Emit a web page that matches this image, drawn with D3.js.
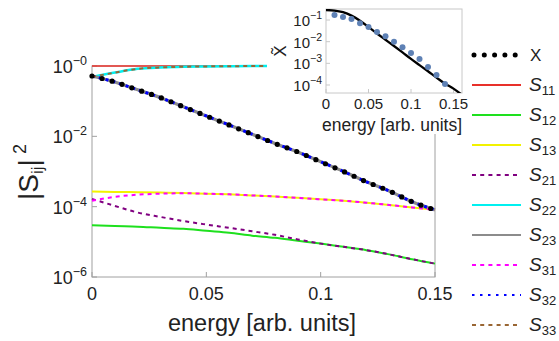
<!DOCTYPE html>
<html><head><meta charset="utf-8">
<script src="https://cdn.jsdelivr.net/npm/d3@7"></script>
<style>body{margin:0;background:#fff}svg{display:block;font-family:"Liberation Sans",Arial,sans-serif}</style>
</head><body><svg id="c" width="559" height="341"></svg>
<script>
// ---- data ----
const energy = [0,0.01,0.02,0.03,0.04,0.05,0.06,0.07,0.08,0.09,0.10,0.11,0.12,0.13,0.14,0.15];
const xVals  = [0.52,0.35,0.21,0.126,0.069,0.038,0.021,0.0115,0.0063,0.0036,0.0019,0.0010,5.1e-4,2.8e-4,1.38e-4,8.1e-5];
const s11 = [1,1,1,1,1,1,1,1,1,1,1,1,1,1,1,1];
const s12 = [2.95e-5,2.8e-5,2.7e-5,2.5e-5,2.35e-5,2.05e-5,1.8e-5,1.5e-5,1.3e-5,1.07e-5,8.9e-6,7.2e-6,5.8e-6,4.4e-6,3.2e-6,2.4e-6];
const s13 = [2.7e-4,2.63e-4,2.57e-4,2.51e-4,2.45e-4,2.34e-4,2.24e-4,2.09e-4,1.95e-4,1.78e-4,1.62e-4,1.48e-4,1.29e-4,1.12e-4,9.5e-5,8.1e-5];
const s21 = [1.66e-4,1.05e-4,6.8e-5,5.1e-5,3.9e-5,3.1e-5,2.5e-5,2.0e-5,1.58e-5,1.17e-5,8.9e-6,7.2e-6,5.8e-6,4.4e-6,3.2e-6,2.4e-6];
const s22 = [0.49,0.65,0.83,0.91,0.955,0.975,0.988,0.994,0.997,0.998,0.999,0.9995,0.9997,0.9998,0.9999,0.9999];
const s23 = [0.52,0.35,0.21,0.126,0.069,0.038,0.021,0.0115,0.0063,0.0036,0.0019,0.0010,5.1e-4,2.8e-4,1.38e-4,8.1e-5];
const s31 = [1.48e-4,1.9e-4,2.19e-4,2.34e-4,2.4e-4,2.34e-4,2.24e-4,2.09e-4,1.95e-4,1.78e-4,1.62e-4,1.48e-4,1.29e-4,1.12e-4,9.5e-5,8.1e-5];
const s32 = [0.52,0.35,0.21,0.126,0.069,0.038,0.021,0.0115,0.0063,0.0036,0.0019,0.0010,5.1e-4,2.8e-4,1.38e-4,8.1e-5];
const s33 = [0.49,0.65,0.83,0.91,0.955,0.975,0.988,0.994,0.997,0.998,0.999,0.9995,0.9997,0.9998,0.9999,0.9999];
const xTicks = [0,0.05,0.1,0.15];
const xTickLabels = ["0","0.05","0.1","0.15"];
const yTickExps = [0,-2,-4,-6];
// inset
const insetLineE = [0,0.01,0.02,0.03,0.04,0.05,0.06,0.07,0.08,0.09,0.10,0.11,0.12,0.13,0.14,0.15,0.16];
const insetLineV = [0.29,0.275,0.23,0.16,0.093,0.048,0.024,0.0123,0.0063,0.0032,0.0016,8.3e-4,4.3e-4,2.2e-4,1.15e-4,6.8e-5,3.5e-5];
const insetDotE = [0.01,0.02,0.03,0.04,0.05,0.06,0.07,0.08,0.09,0.10,0.11,0.12,0.13,0.14];
const insetDotV = [0.17,0.138,0.112,0.072,0.048,0.028,0.018,0.010,0.0056,0.0030,0.0016,6.8e-4,2.9e-4,1.1e-4];
const insetXTicks = [0,0.05,0.1,0.15];
const insetXTickLabels = ["0","0.05","0.1","0.15"];
const insetYTickExps = [-1,-2,-3,-4];

const series = [
  {name:"11", vals:s11, color:"#e8302a", w:1.6, dash:null},
  {name:"12", vals:s12, color:"#1ee01e", w:2, dash:null},
  {name:"13", vals:s13, color:"#f2f200", w:2, dash:null},
  {name:"21", vals:s21, color:"#800080", w:2, dash:"4,4"},
  {name:"22", vals:s22, color:"#00f0f0", w:2.5, dash:null},
  {name:"23", vals:s23, color:"#8c8c8c", w:3.2, dash:null},
  {name:"31", vals:s31, color:"#ff00ff", w:2, dash:"4,4"},
  {name:"32", vals:s32, color:"#0000ff", w:3, dash:"3,4"},
  {name:"33", vals:s33, color:"#996633", w:2, dash:"4,4"}
];

const svg = d3.select("#c");
const x = d3.scaleLinear().domain([0,0.15]).range([92,435]);
const y = d3.scaleLog().domain([1e-6,1]).range([277,66]);

// frame
const fr = svg.append("g").attr("stroke","#a0a0a0").attr("stroke-width",1).attr("fill","none");
fr.append("rect").attr("x",x(0)).attr("y",y(1)).attr("width",x(0.15)-x(0)).attr("height",y(1e-6)-y(1));
// ticks inside
const tk = svg.append("g").attr("stroke","#a0a0a0").attr("stroke-width",1);
xTicks.forEach(t=>{ tk.append("line").attr("x1",x(t)).attr("x2",x(t)).attr("y1",y(1e-6)).attr("y2",y(1e-6)-5); });
yTickExps.forEach(e=>{ tk.append("line").attr("x1",x(0)).attr("x2",x(0)+5).attr("y1",y(Math.pow(10,e))).attr("y2",y(Math.pow(10,e))); });

// tick labels
const tl = svg.append("g").attr("fill","#222");
xTicks.forEach((t,i)=>{ tl.append("text").attr("x",x(t)).attr("y",y(1e-6)+23).attr("text-anchor","middle").attr("font-size",18).text(xTickLabels[i]); });
yTickExps.forEach(e=>{
  const t = tl.append("text").attr("x",87).attr("y",y(Math.pow(10,e))+7).attr("text-anchor","end").attr("font-size",18);
  t.append("tspan").text("10");
  t.append("tspan").attr("font-size",12.5).attr("dy",-8).text("\u2212"+(-e));
});

// lines
const line = d3.line().x((d,i)=>x(energy[i])).y(d=>y(d)).curve(d3.curveMonotoneX);
const lg = svg.append("g").attr("fill","none");
series.forEach(s=>{
  const p = lg.append("path").attr("d",line(s.vals)).attr("stroke",s.color).attr("stroke-width",s.w);
  if(s.dash) p.attr("stroke-dasharray",s.dash);
});
lg.append("path").attr("d",line(xVals)).attr("stroke","#000").attr("stroke-width",5.2)
  .attr("stroke-linecap","round").attr("stroke-dasharray","0,10.4");

// axis titles
svg.append("text").attr("x",262).attr("y",331).attr("text-anchor","middle").attr("font-size",23.5).attr("fill","#222").text("energy [arb. units]");
const yl = svg.append("text").attr("transform","translate(38,172) rotate(-90)").attr("text-anchor","middle").attr("font-size",28).attr("fill","#222");
yl.append("tspan").text("|S");
yl.append("tspan").attr("font-size",17).attr("dy",5).text("ij");
yl.append("tspan").attr("dy",-5).text("|");
yl.append("tspan").attr("font-size",18).attr("dy",-12).text(" 2");

// ---- inset ----
svg.append("rect").attr("x",267).attr("y",0).attr("width",205).attr("height",134).attr("fill","#fff");
const ix = d3.scaleLinear().domain([0,0.16]).range([326,462]);
const iy = d3.scaleLog().domain([Math.pow(10,-4.37),Math.pow(10,-0.49)]).range([93,9]);
const ig = svg.append("g");
ig.append("rect").attr("x",ix(0)).attr("y",iy.range()[1]).attr("width",ix(0.16)-ix(0)).attr("height",iy.range()[0]-iy.range()[1])
  .attr("fill","none").attr("stroke","#c8c8c8");
insetXTicks.forEach((t,i)=>{
  ig.append("line").attr("x1",ix(t)).attr("x2",ix(t)).attr("y1",93).attr("y2",89).attr("stroke","#c8c8c8");
  ig.append("text").attr("x",ix(t)).attr("y",109).attr("text-anchor","middle").attr("font-size",15).attr("fill","#222").text(insetXTickLabels[i]);
});
insetYTickExps.forEach(e=>{
  const yy = iy(Math.pow(10,e));
  ig.append("line").attr("x1",326).attr("x2",330).attr("y1",yy).attr("y2",yy).attr("stroke","#c8c8c8");
  const t = ig.append("text").attr("x",322).attr("y",yy+6).attr("text-anchor","end").attr("font-size",15).attr("fill","#222");
  t.append("tspan").text("10");
  t.append("tspan").attr("font-size",10.5).attr("dy",-7).text("\u2212"+(-e));
});
ig.append("text").attr("x",392).attr("y",131).attr("text-anchor","middle").attr("font-size",17.5).attr("fill","#222").text("energy [arb. units]");
ig.append("text").attr("transform","translate(286,51) rotate(-90)").attr("text-anchor","middle").attr("font-size",17).attr("fill","#222").text("X\u0303");
ig.append("defs").append("clipPath").attr("id","ic").append("rect").attr("x",326).attr("y",9).attr("width",136).attr("height",84);
const iline = d3.line().x((d,i)=>ix(insetLineE[i])).y(d=>iy(d)).curve(d3.curveMonotoneX);
ig.append("path").attr("clip-path","url(#ic)").attr("d",iline(insetLineV)).attr("fill","none").attr("stroke","#000").attr("stroke-width",2.3);
ig.selectAll("circle.d").data(insetDotV).enter().append("circle").attr("cx",(d,i)=>ix(insetDotE[i])).attr("cy",d=>iy(d)).attr("r",3).attr("fill","#5e81b5");

// ---- legend ----
const leg = svg.append("g");
const legItems = [{name:"X"}].concat(series);
legItems.forEach((s,i)=>{
  const yy = 55 + 30*i;
  if(s.name==="X"){
    leg.append("line").attr("x1",474).attr("x2",516).attr("y1",yy).attr("y2",yy).attr("stroke","#000").attr("stroke-width",5)
      .attr("stroke-linecap","round").attr("stroke-dasharray","0,10.3");
    leg.append("text").attr("x",530).attr("y",yy+6).attr("font-size",17).attr("fill","#222").text("X");
  } else {
    const l = leg.append("line").attr("x1",472).attr("x2",521).attr("y1",yy).attr("y2",yy).attr("stroke",s.color).attr("stroke-width",2);
    if(s.dash) l.attr("stroke-dasharray", s.name==="32" ? "2.5,5.5" : "4,4.2");
    const t = leg.append("text").attr("x",529).attr("y",yy+6).attr("font-size",19).attr("fill","#222");
    t.append("tspan").attr("font-style","italic").text("S");
    t.append("tspan").attr("font-size",13).attr("dy",4).text(s.name);
  }
});
</script></body></html>
